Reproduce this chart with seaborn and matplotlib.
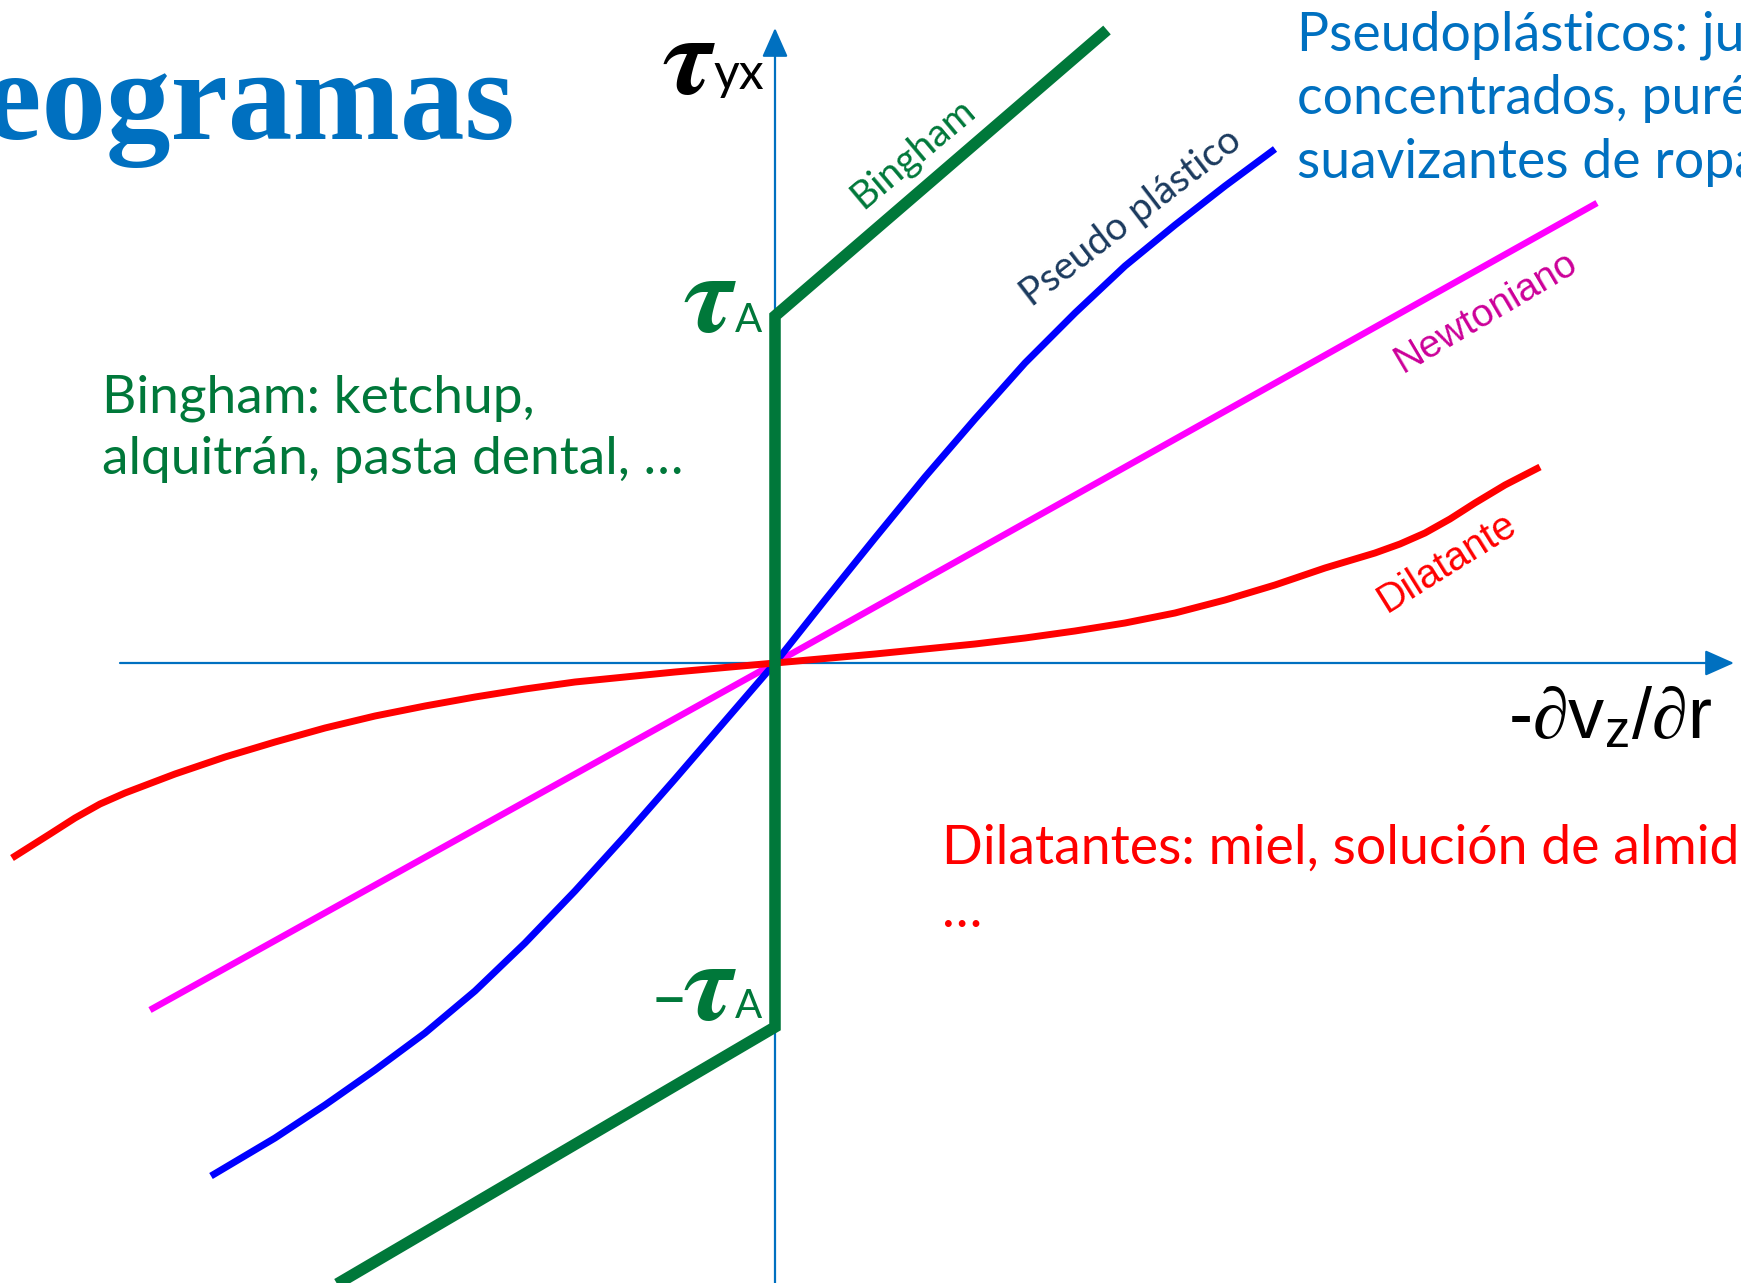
import matplotlib

matplotlib.use("Agg")
import matplotlib.pyplot as plt
import seaborn as sns

# Colours
AXIS_BLUE = "#0070C0"
GREEN = "#00783A"
NAVY = "#1B3A5E"

# Curves, x in units of shear rate, y in units of shear stress (origin at the axes crossing)
bingham_x = [-4.60, 0.0, 0.0, 3.32]
bingham_y = [-6.34, -3.64, 3.47, 6.33]

pseudo_x = [-5.64, -5.0, -4.5, -4.0, -3.5, -3.0, -2.5, -2.0, -1.5, -1.0, -0.5, 0.0,
            0.5, 1.0, 1.5, 2.0, 2.5, 3.0, 3.5, 4.0, 4.5, 5.0]
pseudo_y = [-5.13, -4.75, -4.42, -4.07, -3.70, -3.28, -2.80, -2.28, -1.73, -1.16, -0.58, 0.0,
            0.63, 1.25, 1.86, 2.44, 3.00, 3.50, 3.97, 4.38, 4.77, 5.14]

newton_x = [-6.25, 0.0, 8.22]
newton_y = [-3.47, 0.0, 4.60]

dilat_x = [-7.63, -7.25, -7.0, -6.75, -6.5, -6.0, -5.5, -5.0, -4.5, -4.0, -3.5, -3.0, -2.5,
           -2.0, -1.5, -1.0, -0.5, 0.0, 0.5, 1.0, 1.5, 2.0, 2.5, 3.0, 3.5, 4.0, 4.5, 5.0,
           5.5, 6.0, 6.25, 6.5, 6.75, 7.0, 7.3, 7.65]
dilat_y = [-1.95, -1.71, -1.55, -1.41, -1.30, -1.11, -0.94, -0.79, -0.65, -0.53, -0.43, -0.34,
           -0.26, -0.19, -0.14, -0.09, -0.045, 0.0, 0.045, 0.09, 0.14, 0.19, 0.25, 0.32, 0.40,
           0.50, 0.63, 0.78, 0.95, 1.10, 1.19, 1.30, 1.44, 1.60, 1.78, 1.96]

# Texts
title = "Reogramas"
bingham_note = ["Bingham: ketchup,", "alquitrán, pasta dental, …"]
pseudo_note = ["Pseudoplásticos: jugos", "concentrados, puré de papas,", "suavizantes de ropa, …"]
dilat_note = ["Dilatantes: miel, solución de almidón,", "…"]

sns.set_theme(style="white")
plt.rcParams.update(
    {
        "font.family": ["Lato", "DejaVu Sans"],
        "mathtext.fontset": "custom",
        "mathtext.rm": "Liberation Serif:italic",
        "mathtext.it": "Liberation Serif:italic",
        "mathtext.sf": "Liberation Sans",
        "figure.facecolor": "white",
        "axes.facecolor": "white",
    }
)

fig = plt.figure(figsize=(17.41, 12.83), dpi=100)
ax = fig.add_axes([0, 0, 1, 1])
ax.set_xlim(-7.75, 9.66)
ax.set_ylim(-6.20, 6.63)
ax.axis("off")

# axes with arrow heads
arrow = dict(arrowstyle="-|>,head_length=0.9,head_width=0.4", color=AXIS_BLUE, lw=1.6,
             shrinkA=0, shrinkB=0, mutation_scale=20)
ax.annotate("", xy=(9.59, 0), xytext=(-6.55, 0), arrowprops=arrow, zorder=1)
ax.annotate("", xy=(0, 6.35), xytext=(0, -6.3), arrowprops=arrow, zorder=1)

line_kw = dict(ax=ax, sort=False, estimator=None, legend=False, solid_capstyle="butt")
sns.lineplot(x=newton_x, y=newton_y, color="#FF00FF", lw=4.7, **line_kw)
sns.lineplot(x=pseudo_x, y=pseudo_y, color="#0000FF", lw=5.0, solid_joinstyle="round", **line_kw)
sns.lineplot(x=dilat_x, y=dilat_y, color="#FF0000", lw=5.0, solid_joinstyle="round", **line_kw)
sns.lineplot(x=bingham_x, y=bingham_y, color=GREEN, lw=8.3, solid_joinstyle="miter", **line_kw)

# title (first letter runs off the slide)
ax.text(-2.60, 5.24, title, ha="right", va="baseline", fontsize=93, fontweight="bold",
        family="Liberation Serif", color=AXIS_BLUE)

# axis labels
tau = r"$\boldsymbol{\tau}$"
ax.text(-1.13, 5.69, tau, ha="left", va="baseline", fontsize=82, math_fontfamily="stix", color="black")
ax.text(-0.62, 5.74, "yx", ha="left", va="baseline", fontsize=36, color="black")
ax.text(7.33, -0.75, r"-$\partial\mathsf{v}_\mathsf{z}$/$\partial$r", ha="left", va="baseline",
        fontsize=52, family="Liberation Sans", color="black")

# yield stress marks
ax.text(-0.92, 3.31, tau, ha="left", va="baseline", fontsize=82, math_fontfamily="stix", color=GREEN)
ax.text(-0.40, 3.31, "A", ha="left", va="baseline", fontsize=29, color=GREEN)
ax.text(-0.89, -3.50, "\u2212", ha="right", va="baseline", fontsize=30, fontweight="bold",
        family="DejaVu Sans", color=GREEN)
ax.text(-0.92, -3.57, tau, ha="left", va="baseline", fontsize=82, math_fontfamily="stix", color=GREEN)
ax.text(-0.40, -3.55, "A", ha="left", va="baseline", fontsize=29, color=GREEN)

# curve labels
label_kw = dict(ha="center", va="center", rotation_mode="anchor")
ax.text(1.38, 5.10, "Bingham", rotation=40, fontsize=28, color=GREEN, **label_kw)
ax.text(3.56, 4.46, "Pseudo plástico", rotation=37.5, fontsize=28, color=NAVY, **label_kw)
ax.text(7.11, 3.51, "Newtoniano", rotation=30.5, fontsize=28, family="Liberation Sans",
        color="#CC0099", **label_kw)
ax.text(6.72, 1.01, "Dilatante", rotation=32, fontsize=28.5, family="Liberation Sans",
        color="#FF0000", **label_kw)

# example notes
for i, line in enumerate(bingham_note):
    ax.text(-6.73, 2.50 - 0.61 * i, line, ha="left", va="baseline", fontsize=38.3, color=GREEN)
for i, line in enumerate(pseudo_note):
    ax.text(5.22, 6.13 - 0.64 * i, line, ha="left", va="baseline", fontsize=38.6, color=AXIS_BLUE)
for i, line in enumerate(dilat_note):
    ax.text(1.67, -2.01 - 0.63 * i, line, ha="left", va="baseline", fontsize=38.6, color="#FF0000")

fig.savefig("out.png", dpi=100)
